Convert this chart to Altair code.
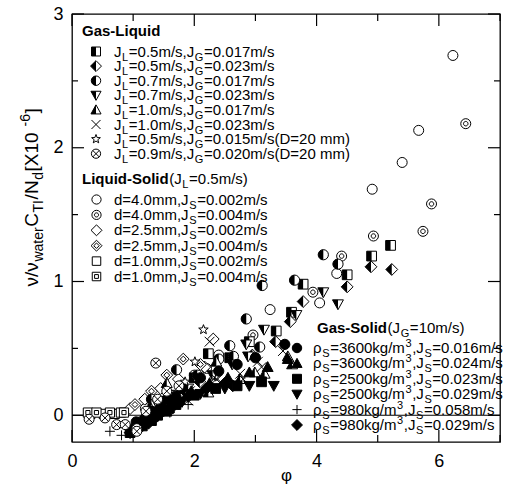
import math
import re
import altair as alt
import pandas as pd

# ---------------- data ----------------
# Gas-Liquid
GL1_X = [1.35, 1.65, 2.0, 2.23, 2.58, 2.9, 3.34, 3.59, 3.78, 4.50, 4.90, 5.21]
GL1_Y = [0.05, 0.15, 0.28, 0.46, 0.43, 0.55, 0.63, 0.77, 0.98, 1.05, 1.19, 1.27]
GL2_X = [1.2, 1.5, 1.85, 2.09, 2.35, 2.63, 2.95, 3.33, 3.57, 3.78, 4.50, 4.89, 5.23]
GL2_Y = [-0.02, 0.08, 0.18, 0.25, 0.30, 0.22, 0.45, 0.55, 0.70, 0.85, 0.96, 1.11, 1.09]
GL3_X = [1.3, 1.71, 2.05, 2.4, 2.58, 2.64, 2.85, 3.07, 3.11, 3.64, 4.11, 4.35]
GL3_Y = [0.12, 0.34, 0.30, 0.42, 0.52, 0.44, 0.72, 0.51, 0.97, 1.01, 1.20, 1.13]
GL4_X = [1.5, 1.9, 2.3, 2.62, 2.85, 2.88, 3.14, 3.67, 4.11, 4.35]
GL4_Y = [0.10, 0.20, 0.30, 0.38, 0.53, 0.44, 0.64, 0.75, 0.92, 0.83]
GL5_X = [1.1, 1.3, 1.55, 1.9, 2.23, 2.36, 2.75, 2.99, 3.15, 3.53, 3.60]
GL5_Y = [-0.05, 0.08, 0.24, 0.15, 0.17, 0.40, 0.27, 0.32, 0.31, 0.44, 0.38]
GL6_X = [1.6, 1.90, 1.93, 2.25, 2.36, 2.45, 2.75, 2.80, 3.04, 3.10, 3.45]
GL6_Y = [0.08, 0.11, 0.18, 0.55, 0.27, 0.24, 0.31, 0.27, 0.40, 0.36, 0.48]
GL7_X = [1.3, 1.6, 1.85, 2.01, 2.15]
GL7_Y = [0.05, 0.17, 0.25, 0.40, 0.64]
GL8_X = [0.28, 0.54, 0.73, 0.87, 1.06, 1.06, 1.21, 1.37, 1.40, 1.55, 1.75]
GL8_Y = [-0.03, -0.02, -0.07, -0.07, -0.10, -0.12, 0.03, 0.39, 0.12, 0.18, 0.22]
# Liquid-Solid
LS1_X = [1.2, 1.6, 2.0, 2.4, 3.24, 4.05, 4.33, 4.91, 5.40, 5.67, 6.23]
LS1_Y = [0.05, 0.15, 0.30, 0.45, 0.79, 0.84, 1.06, 1.69, 1.89, 2.13, 2.69]
LS2_X = [1.4, 1.8, 2.2, 2.96, 3.94, 4.41, 4.93, 5.74, 5.88, 6.44]
LS2_Y = [0.10, 0.20, 0.35, 0.60, 0.92, 1.19, 1.34, 1.375, 1.58, 2.18]
LS3_X = [0.95, 1.19, 1.45, 1.74, 2.17, 2.31]
LS3_Y = [0.05, 0.12, 0.20, 0.27, 0.36, 0.57]
LS4_X = [1.03, 1.3, 1.55, 1.82, 2.1]
LS4_Y = [0.08, 0.18, 0.30, 0.42, 0.38]
LS5_X = [0.30, 0.52, 0.70, 0.80]
LS5_Y = [0.01, 0.01, 0.01, 0.02]
LS6_X = [0.26, 0.40, 0.62, 0.85]
LS6_Y = [0.02, 0.02, 0.02, 0.02]
# Gas-Solid
GS1_X = [1.05, 1.2, 1.3, 1.45, 1.55, 1.7, 1.8, 2.1, 2.4, 2.7, 3.0, 3.48]
GS1_Y = [-0.05, -0.02, 0.03, 0.06, 0.12, 0.14, 0.20, 0.28, 0.33, 0.38, 0.43, 0.53]
GS2_X = [1.1, 1.25, 1.35, 1.5, 1.65, 1.95, 2.25, 2.55, 2.9, 3.2, 3.53]
GS2_Y = [-0.06, -0.01, 0.02, 0.06, 0.10, 0.18, 0.24, 0.28, 0.32, 0.36, 0.42]
GS3_X = [0.95, 1.15, 1.3, 1.4, 1.55, 1.7, 2.0, 2.35, 2.7, 3.1]
GS3_Y = [-0.13, -0.08, -0.04, 0.0, 0.03, 0.08, 0.15, 0.20, 0.22, 0.25]
GS4_X = [1.0, 1.25, 1.4, 1.5, 1.65, 1.8, 2.1, 2.5, 2.9, 3.3]
GS4_Y = [-0.10, -0.05, -0.01, 0.03, 0.05, 0.10, 0.16, 0.20, 0.22, 0.22]
GS5_X = [0.62, 0.81, 1.05, 1.3, 1.6, 1.9]
GS5_Y = [-0.12, -0.15, -0.10, -0.04, 0.02, 0.08]
GS6_X = [0.95, 1.05, 1.15, 1.25, 1.35, 1.6, 1.75, 1.9, 2.2, 2.5]
GS6_Y = [-0.13, -0.11, -0.08, -0.06, -0.02, 0.06, 0.09, 0.14, 0.20, 0.24]

GL_TEXT = [
    "J_{L}=0.5m/s,J_{G}=0.017m/s",
    "J_{L}=0.5m/s,J_{G}=0.023m/s",
    "J_{L}=0.7m/s,J_{G}=0.017m/s",
    "J_{L}=0.7m/s,J_{G}=0.023m/s",
    "J_{L}=1.0m/s,J_{G}=0.017m/s",
    "J_{L}=1.0m/s,J_{G}=0.023m/s",
    "J_{L}=0.5m/s,J_{G}=0.015m/s(D=20 mm)",
    "J_{L}=0.9m/s,J_{G}=0.020m/s(D=20 mm)",
]
LS_TEXT = [
    "d=4.0mm,J_{S}=0.002m/s",
    "d=4.0mm,J_{S}=0.004m/s",
    "d=2.5mm,J_{S}=0.002m/s",
    "d=2.5mm,J_{S}=0.004m/s",
    "d=1.0mm,J_{S}=0.002m/s",
    "d=1.0mm,J_{S}=0.004m/s",
]
GS_TEXT = [
    "ρ_{S}=3600kg/m^{3},J_{S}=0.016m/s",
    "ρ_{S}=3600kg/m^{3},J_{S}=0.024m/s",
    "ρ_{S}=2500kg/m^{3},J_{S}=0.023m/s",
    "ρ_{S}=2500kg/m^{3},J_{S}=0.029m/s",
    "ρ_{S}=980kg/m^{3},J_{S}=0.058m/s",
    "ρ_{S}=980kg/m^{3},J_{S}=0.029m/s",
]
HEADERS = ["Gas-Liquid", "Liquid-Solid", "Gas-Solid"]
HEADER_TAILS = ["", "(J_{L}=0.5m/s)", "(J_{G}=10m/s)"]
Y_TITLE = "ν/ν_{water}C_{TI}/N_{d} [X10^{-6}]"
X_TITLE = "φ"

# ---------------- geometry ----------------
W, H = 428, 428
X0, X1, Y0, Y1 = 0.0, 7.0, -0.2, 3.0
FONT = "Liberation Sans"


def px2x(px):
    return X0 + px / W * (X1 - X0)


def py2y(py):
    return Y1 - py / H * (Y1 - Y0)


# ---------------- marker shapes ----------------
def circ(r):
    return f"M{r},0A{r},{r} 0 1,1 {-r},0A{r},{r} 0 1,1 {r},0Z"


SQ = "M-1,-1L1,-1L1,1L-1,1Z"
SQ_L = "M-1,-1L0,-1L0,1L-1,1Z"
SQ_IN = "M-0.45,-0.45L0.45,-0.45L0.45,0.45L-0.45,0.45Z"
DM = "M0,-1L1,0L0,1L-1,0Z"
DM_L = "M0,-1L0,1L-1,0Z"
DM_IN = "M0,-0.5L0.5,0L0,0.5L-0.5,0Z"
CI = circ(1)
CI_L = "M0,-1A1,1 0 0,0 0,1Z"
CI_IN = circ(0.45)
TU = "M0,-1L1,0.8L-1,0.8Z"
TU_L = "M0,-1L0,0.8L-1,0.8Z"
TD = "M-1,-0.8L1,-0.8L0,1Z"
TD_L = "M-1,-0.8L0,-0.8L0,1Z"
XX = "M-0.8,-0.8L0.8,0.8M-0.8,0.8L0.8,-0.8"
XC = "M-0.7,-0.7L0.7,0.7M-0.7,0.7L0.7,-0.7"
PL = "M-1,0L1,0M0,-1L0,1"
_pts = []
for k in range(10):
    a = math.radians(-90 + 36 * k)
    r = 1.0 if k % 2 == 0 else 0.42
    _pts.append(f"{r*math.cos(a):.3f},{r*math.sin(a):.3f}")
STAR = "M" + "L".join(_pts) + "Z"

OPEN = ("white", "black")
BLK = ("black", "black")
HALF = ("black", "transparent")
LINE = ("transparent", "black")

SERIES = {
    "GL1": (GL1_X, GL1_Y, [(SQ, OPEN), (SQ_L, HALF)], 95),
    "GL2": (GL2_X, GL2_Y, [(DM, OPEN), (DM_L, HALF)], 140),
    "GL3": (GL3_X, GL3_Y, [(CI, OPEN), (CI_L, HALF)], 105),
    "GL4": (GL4_X, GL4_Y, [(TD, OPEN), (TD_L, HALF)], 120),
    "GL5": (GL5_X, GL5_Y, [(TU, OPEN), (TU_L, HALF)], 120),
    "GL6": (GL6_X, GL6_Y, [(XX, LINE)], 150),
    "GL7": (GL7_X, GL7_Y, [(STAR, OPEN)], 100),
    "GL8": (GL8_X, GL8_Y, [(CI, OPEN), (XC, LINE)], 100),
    "LS1": (LS1_X, LS1_Y, [(CI, OPEN)], 100),
    "LS2": (LS2_X, LS2_Y, [(CI, OPEN), (CI_IN, OPEN)], 100),
    "LS3": (LS3_X, LS3_Y, [(DM, OPEN)], 140),
    "LS4": (LS4_X, LS4_Y, [(DM, OPEN), (DM_IN, OPEN)], 140),
    "LS5": (LS5_X, LS5_Y, [(SQ, OPEN)], 85),
    "LS6": (LS6_X, LS6_Y, [(SQ, OPEN), (SQ_IN, OPEN)], 85),
    "GS1": (GS1_X, GS1_Y, [(CI, BLK)], 105),
    "GS2": (GS2_X, GS2_Y, [(TU, BLK)], 120),
    "GS3": (GS3_X, GS3_Y, [(SQ, BLK)], 95),
    "GS4": (GS4_X, GS4_Y, [(TD, BLK)], 120),
    "GS5": (GS5_X, GS5_Y, [(PL, LINE)], 100),
    "GS6": (GS6_X, GS6_Y, [(DM, BLK)], 140),
}
DRAW_ORDER = ["LS1", "LS2", "LS3", "LS4", "LS5", "LS6",
              "GL1", "GL2", "GL3", "GL4", "GL5", "GL6", "GL7",
              "GS1", "GS2", "GS3", "GS4", "GS5", "GS6", "GL8"]

# legend layout (pixel positions inside plot area)
LEG_POS = {}
for i in range(8):
    LEG_POS[f"GL{i+1}"] = (24, 42.5 + 14.6 * i - 5)
for i in range(6):
    LEG_POS[f"LS{i+1}"] = (24.5, 190.5 + 15.4 * i - 5)
for i in range(6):
    LEG_POS[f"GS{i+1}"] = (225, 339 + 15.4 * i - 5)

comp_keys, comp_paths = [], []
rows = []
seq = 0
for key in DRAW_ORDER:
    xs, ys, comps, size = SERIES[key]
    for j, (path, (fill, stroke)) in enumerate(comps):
        comp_keys.append(f"{key}_{j}")
        comp_paths.append(path)
    for xv, yv in zip(xs, ys):
        for j, (path, (fill, stroke)) in enumerate(comps):
            rows.append(dict(x=xv, y=yv, comp=f"{key}_{j}", fill=fill,
                             stroke=stroke, size=size, seq=seq))
            seq += 1
for key in DRAW_ORDER:
    xs, ys, comps, size = SERIES[key]
    lx, ly = LEG_POS[key]
    for j, (path, (fill, stroke)) in enumerate(comps):
        rows.append(dict(x=px2x(lx), y=py2y(ly), comp=f"{key}_{j}", fill=fill,
                         stroke=stroke, size=size * 0.85, seq=seq))
        seq += 1
pts_df = pd.DataFrame(rows)

# ---------------- text layout helpers ----------------
CW = {c: 556 for c in "0123456789"}
CW.update({".": 278, ",": 278, "=": 584, "m": 833, "/": 278, "s": 500, "J": 500,
           "L": 556, "G": 778, "S": 667, "d": 556, "k": 500, "g": 556, "(": 333,
           ")": 333, "D": 722, " ": 278, "ρ": 578, "ν": 500, "w": 722, "a": 556,
           "t": 278, "e": 556, "r": 333, "C": 722, "T": 611, "I": 278, "N": 722,
           "[": 278, "]": 278, "X": 667, "-": 333})
CWB = {"G": 778, "a": 556, "s": 556, "-": 333, "L": 611, "i": 278, "q": 611,
       "u": 611, "d": 611, "S": 667, "o": 611, "l": 278}
GAP = 0.6


def textw(t, fs, bold=False):
    tab = CWB if bold else CW
    return sum(tab.get(c, 556) for c in t) * fs / 1000.0


def parse(s):
    out = []
    for m in re.finditer(r"([_^])\{([^}]*)\}|([^_^]+)", s):
        if m.group(3):
            out.append((m.group(3), "n"))
        else:
            out.append((m.group(2), "sub" if m.group(1) == "_" else "sup"))
    return out


def lay(markup, px, py, fs, sfs, sub_dy, sup_dy, rotate=False):
    out = []
    off = 0.0
    for txt, kind in parse(markup):
        size = fs if kind == "n" else sfs
        d = 0 if kind == "n" else (sub_dy if kind == "sub" else sup_dy)
        if rotate:
            X, Y = px + d, py - off
        else:
            X, Y = px + off, py + d
        out.append(dict(x=px2x(X), y=py2y(Y), t=txt, fs=size))
        off += textw(txt, size) + GAP
    return out


def total_len(markup, fs, sfs):
    return sum(textw(t, fs if k == "n" else sfs) + GAP for t, k in parse(markup))


LFS, LSFS = 15, 11
text_rows = []
bold_rows = []
for i, s in enumerate(GL_TEXT):
    text_rows += lay(s, 42, 42.5 + 14.6 * i, LFS, LSFS, 4, -6)
for i, s in enumerate(LS_TEXT):
    text_rows += lay(s, 42, 190.5 + 15.4 * i, LFS, LSFS, 4, -6)
for i, s in enumerate(GS_TEXT):
    text_rows += lay(s, 241, 339 + 15.4 * i, LFS, LSFS, 4, -6)
HEAD_POS = [(10, 22), (10, 170), (245, 319)]
for h, tail, (hx, hy) in zip(HEADERS, HEADER_TAILS, HEAD_POS):
    bold_rows.append(dict(x=px2x(hx), y=py2y(hy), t=h, fs=LFS))
    if tail:
        text_rows += lay(tail, hx + textw(h, LFS, True) + GAP, hy, LFS, LSFS, 4, -6)
text_df = pd.DataFrame(text_rows)
bold_df = pd.DataFrame(bold_rows)

TFS, TSFS = 19, 14
tl = total_len(Y_TITLE, TFS, TSFS)
rot_df = pd.DataFrame(lay(Y_TITLE, -34, 183 + tl / 2, TFS, TSFS, 5, -8, rotate=True))

# ---------------- ticks & zero line ----------------
rule_rows = []
kx = (X1 - X0) / W
ky = (Y1 - Y0) / H
for v in range(0, 8):
    L = 12 if v % 2 == 0 else 7
    rule_rows.append(dict(x=v, x2=v, y=Y0, y2=Y0 + L * ky))
    rule_rows.append(dict(x=v, x2=v, y=Y1, y2=Y1 - L * ky))
for k in range(0, 7):
    v = k * 0.5
    L = 12 if k % 2 == 0 else 6
    rule_rows.append(dict(x=X0, x2=X0 + L * kx, y=v, y2=v))
    rule_rows.append(dict(x=X1, x2=X1 - L * kx, y=v, y2=v))
rule_rows.append(dict(x=X0, x2=X1, y=0.0, y2=0.0))
rule_df = pd.DataFrame(rule_rows)

# ---------------- encodings ----------------
X_ENC = alt.X("x:Q", scale=alt.Scale(domain=[X0, X1], nice=False, zero=False),
              axis=alt.Axis(values=[0, 2, 4, 6], ticks=False, domain=False, grid=False,
                            labelFontSize=18, labelFont=FONT, labelPadding=10,
                            labelFlush=False, labelColor="black", format="d",
                            title=X_TITLE, titleFontSize=17, titleFont=FONT,
                            titleFontWeight="normal", titlePadding=-3, titleColor="black"))
Y_ENC = alt.Y("y:Q", scale=alt.Scale(domain=[Y0, Y1], nice=False, zero=False),
              axis=alt.Axis(values=[0, 1, 2, 3], ticks=False, domain=False, grid=False,
                            labelFontSize=18, labelFont=FONT, labelPadding=9,
                            labelFlush=False, labelColor="black", format="d", title=None))

rules = alt.Chart(rule_df).mark_rule(color="black", strokeWidth=1.2).encode(
    x=X_ENC, x2="x2:Q", y=Y_ENC, y2="y2:Q")

points = alt.Chart(pts_df).mark_point(filled=True, opacity=1, strokeWidth=1).encode(
    x=X_ENC, y=Y_ENC,
    shape=alt.Shape("comp:N", scale=alt.Scale(domain=comp_keys, range=comp_paths), legend=None),
    fill=alt.Fill("fill:N", scale=None),
    stroke=alt.Stroke("stroke:N", scale=None),
    size=alt.Size("size:Q", scale=None),
    order=alt.Order("seq:Q"),
)

texts = alt.Chart(text_df).mark_text(align="left", baseline="alphabetic", font=FONT,
                                     color="black").encode(
    x=X_ENC, y=Y_ENC, text="t:N", size=alt.Size("fs:Q", scale=None))

bolds = alt.Chart(bold_df).mark_text(align="left", baseline="alphabetic", font=FONT,
                                     fontWeight="bold", color="black").encode(
    x=X_ENC, y=Y_ENC, text="t:N", size=alt.Size("fs:Q", scale=None))

ytitle = alt.Chart(rot_df).mark_text(align="left", baseline="alphabetic", font=FONT,
                                     angle=270, color="black").encode(
    x=X_ENC, y=Y_ENC, text="t:N", size=alt.Size("fs:Q", scale=None))

chart = alt.layer(rules, points, texts, bolds, ytitle).properties(
    width=W, height=H,
    autosize=alt.AutoSizeParams(type="none"),
    padding={"left": 72, "top": 14, "right": 5, "bottom": 45},
    background="white",
).configure_view(stroke="black", strokeWidth=1.3)

chart.save("out.html", embed_options={"renderer": "svg", "actions": False})
